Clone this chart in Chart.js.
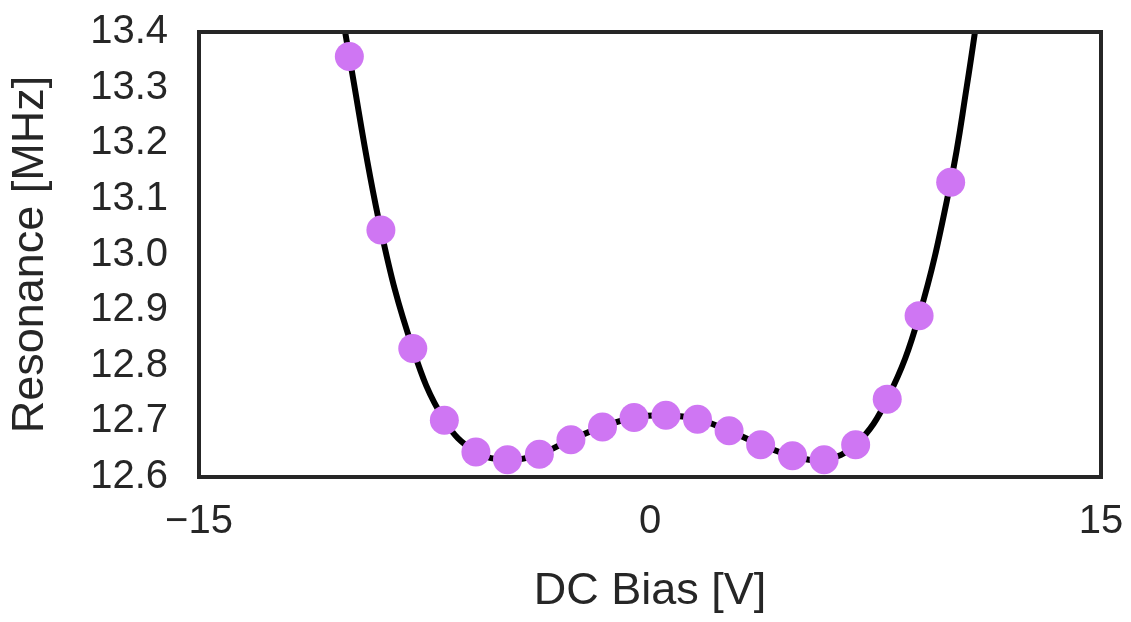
<!DOCTYPE html>
<html>
<head>
<meta charset="utf-8">
<title>Resonance vs DC Bias</title>
<script src="https://cdn.jsdelivr.net/npm/chart.js@4/dist/chart.umd.min.js"></script>
<style>
  body { margin: 0; background: #fff; }
</style>
</head>
<body>
<canvas id="myChart" width="1131" height="622"></canvas>
<script>
// Datos medidos (puntos morados)
const biasVolts = [-10, -8.95, -7.89, -6.84, -5.79, -4.74, -3.68, -2.63, -1.58, -0.53,
  0.53, 1.58, 2.63, 3.68, 4.74, 5.79, 6.84, 7.89, 8.95, 10];
const resonanceMHz = [13.356, 13.044, 12.831, 12.702, 12.645, 12.631, 12.641, 12.667, 12.690, 12.707,
  12.711, 12.704, 12.683, 12.658, 12.638, 12.631, 12.658, 12.740, 12.890, 13.130];

// Curva de ajuste (linea negra); sale por arriba en los extremos
const fitVolts = [-10.53, -10, -8.95, -7.89, -6.84, -5.79, -4.74, -3.68, -2.63, -1.58, -0.53,
  0.53, 1.58, 2.63, 3.68, 4.74, 5.79, 6.84, 7.89, 8.95, 10, 10.53, 11.05];
const fitMHz = [13.53, 13.356, 13.044, 12.831, 12.702, 12.645, 12.631, 12.641, 12.667, 12.690, 12.707,
  12.711, 12.704, 12.683, 12.658, 12.638, 12.631, 12.658, 12.740, 12.890, 13.130, 13.30, 13.49];

// Ticks de los ejes
const xTicks = [-15, 0, 15];
const yTicks = [12.6, 12.7, 12.8, 12.9, 13.0, 13.1, 13.2, 13.3, 13.4];

const textColor = '#262626';
const fontFamily = "'Liberation Sans', Arial, Helvetica, sans-serif";

// Marco negro alrededor del area del grafico
const framePlugin = {
  id: 'frame',
  afterDraw(chart) {
    const {ctx, chartArea: a} = chart;
    ctx.save();
    ctx.strokeStyle = '#262626';
    ctx.lineWidth = 4;
    ctx.strokeRect(a.left, a.top, a.right - a.left, a.bottom - a.top);
    ctx.restore();
  }
};

const chartData = {
  datasets: [{
    label: 'Medido',
    data: biasVolts.map((v, i) => ({x: v, y: resonanceMHz[i]})),
    backgroundColor: '#cf76f3',
    borderWidth: 0,
    pointRadius: 14.5,
    pointBorderWidth: 0,
    showLine: false,
    order: 0
  },
  {
    label: 'Ajuste',
    data: fitVolts.map((v, i) => ({x: v, y: fitMHz[i]})),
    borderColor: '#000000',
    borderWidth: 6,
    pointRadius: 0,
    showLine: true,
    tension: 0.4,
    order: 1
  }]
};

const config = {
  type: 'scatter',
  data: chartData,
  plugins: [framePlugin],
  options: {
    responsive: false,
    animation: false,
    layout: {
      padding: {top: 32, right: 30, left: 0, bottom: 0}
    },
    plugins: {
      legend: {display: false},
      tooltip: {enabled: false}
    },
    scales: {
      x: {
        type: 'linear',
        min: xTicks[0],
        max: xTicks[xTicks.length - 1],
        afterBuildTicks: scale => { scale.ticks = xTicks.map(v => ({value: v})); },
        afterFit: scale => {
          scale.height = 145;
          scale.paddingLeft = 0;
          scale.paddingRight = 0;
        },
        grid: {display: false, drawTicks: false},
        border: {display: false},
        ticks: {
          padding: 21,
          color: textColor,
          font: {family: fontFamily, size: 40},
          maxRotation: 0,
          callback: v => v < 0 ? `\u2212${Math.abs(v)}` : `${v}`
        },
        title: {
          display: true,
          text: 'DC Bias [V]',
          color: textColor,
          font: {family: fontFamily, size: 45},
          padding: {top: 0, bottom: 3}
        }
      },
      y: {
        type: 'linear',
        min: yTicks[0],
        max: yTicks[yTicks.length - 1],
        afterBuildTicks: scale => { scale.ticks = yTicks.map(v => ({value: v})); },
        afterFit: scale => {
          scale.width = 199;
          scale.paddingTop = 0;
          scale.paddingBottom = 0;
        },
        grid: {display: false, drawTicks: false},
        border: {display: false},
        ticks: {
          padding: 31,
          color: textColor,
          font: {family: fontFamily, size: 40},
          callback: v => Number(v).toFixed(1)
        },
        title: {
          display: true,
          text: 'Resonance [MHz]',
          color: textColor,
          font: {family: fontFamily, size: 45},
          padding: {top: 4, bottom: 0}
        }
      }
    }
  }
};

const myChart = new Chart(document.getElementById('myChart'), config);
</script>
</body>
</html>
